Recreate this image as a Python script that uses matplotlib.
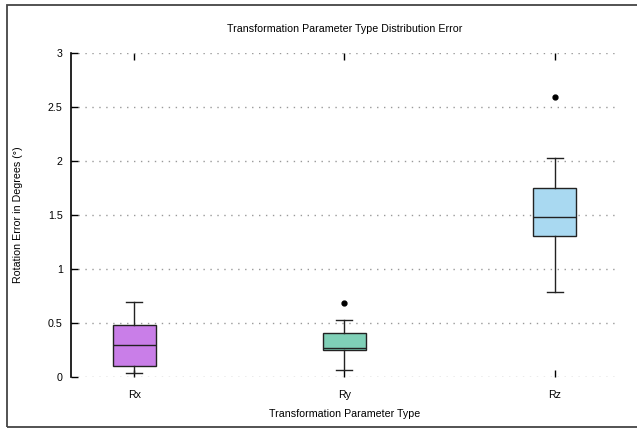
import matplotlib
matplotlib.use('Agg')
import matplotlib.pyplot as plt
from matplotlib.patches import Rectangle

plt.rcParams['font.family'] = ['Liberation Sans', 'DejaVu Sans']

# box statistics (degrees)
params = ['Rx', 'Ry', 'Rz']
whislo = [0.043, 0.065, 0.79]
q1 = [0.105, 0.25, 1.31]
med = [0.296, 0.268, 1.486]
q3 = [0.48, 0.407, 1.75]
whishi = [0.697, 0.533, 2.03]
fliers = [[], [0.687], [2.59]]
box_colors = ['#c97ee8', '#7fd0b7', '#a9d9f1']

stats = []
for i in range(len(params)):
    stats.append({'label': params[i], 'whislo': whislo[i], 'q1': q1[i], 'med': med[i],
                  'q3': q3[i], 'whishi': whishi[i], 'fliers': fliers[i]})

fig = plt.figure(figsize=(6.37, 4.29), dpi=100)
fig.set_facecolor('white')
ax = fig.add_axes([0.1115, 0.1205, 0.8585, 0.756])

bp = ax.bxp(stats, positions=[1, 2, 3], widths=0.205, capwidths=0.076, patch_artist=True,
            boxprops=dict(edgecolor='#222222', linewidth=1.0),
            medianprops=dict(color='#222222', linewidth=1.0),
            whiskerprops=dict(color='#222222', linewidth=1.0),
            capprops=dict(color='#222222', linewidth=1.0),
            flierprops=dict(marker='o', markerfacecolor='black', markeredgecolor='black', markersize=3.5))
for patch, c in zip(bp['boxes'], box_colors):
    patch.set_facecolor(c)

ax.set_xlim(0.7, 3.3)
ax.set_ylim(0, 3)
ax.set_yticks([0, 0.5, 1, 1.5, 2, 2.5, 3])
ax.set_yticklabels(['0', '0.5', '1', '1.5', '2', '2.5', '3'])
ax.yaxis.grid(True, linestyle=(0, (1, 4)), color='#999999', linewidth=1)
ax.set_axisbelow(True)

for s in ['top', 'right', 'bottom']:
    ax.spines[s].set_visible(False)
ax.spines['left'].set_linewidth(1.2)

fs = 7.7
ax.tick_params(axis='y', direction='in', length=5, width=1, labelsize=fs, pad=6)
ax.tick_params(axis='x', direction='in', length=5, width=1, top=True, bottom=True, labelsize=fs, pad=9)

fig.text(0.5415, 1 - 29 / 429, 'Transformation Parameter Type Distribution Error', ha='center', va='center', fontsize=fs)
fig.text(0.5415, 1 - 414 / 429, 'Transformation Parameter Type', ha='center', va='center', fontsize=fs)
fig.text(18 / 637, 0.4985, 'Rotation Error in Degrees (°)', ha='center', va='center', rotation=90, fontsize=fs)

# frame around the whole figure
fig.patches.append(Rectangle((7 / 637, 2 / 429), 1.0, 1 - 7 / 429, transform=fig.transFigure,
                             fill=False, edgecolor='#444444', linewidth=1.3))

fig.savefig('out.png', dpi=100)
